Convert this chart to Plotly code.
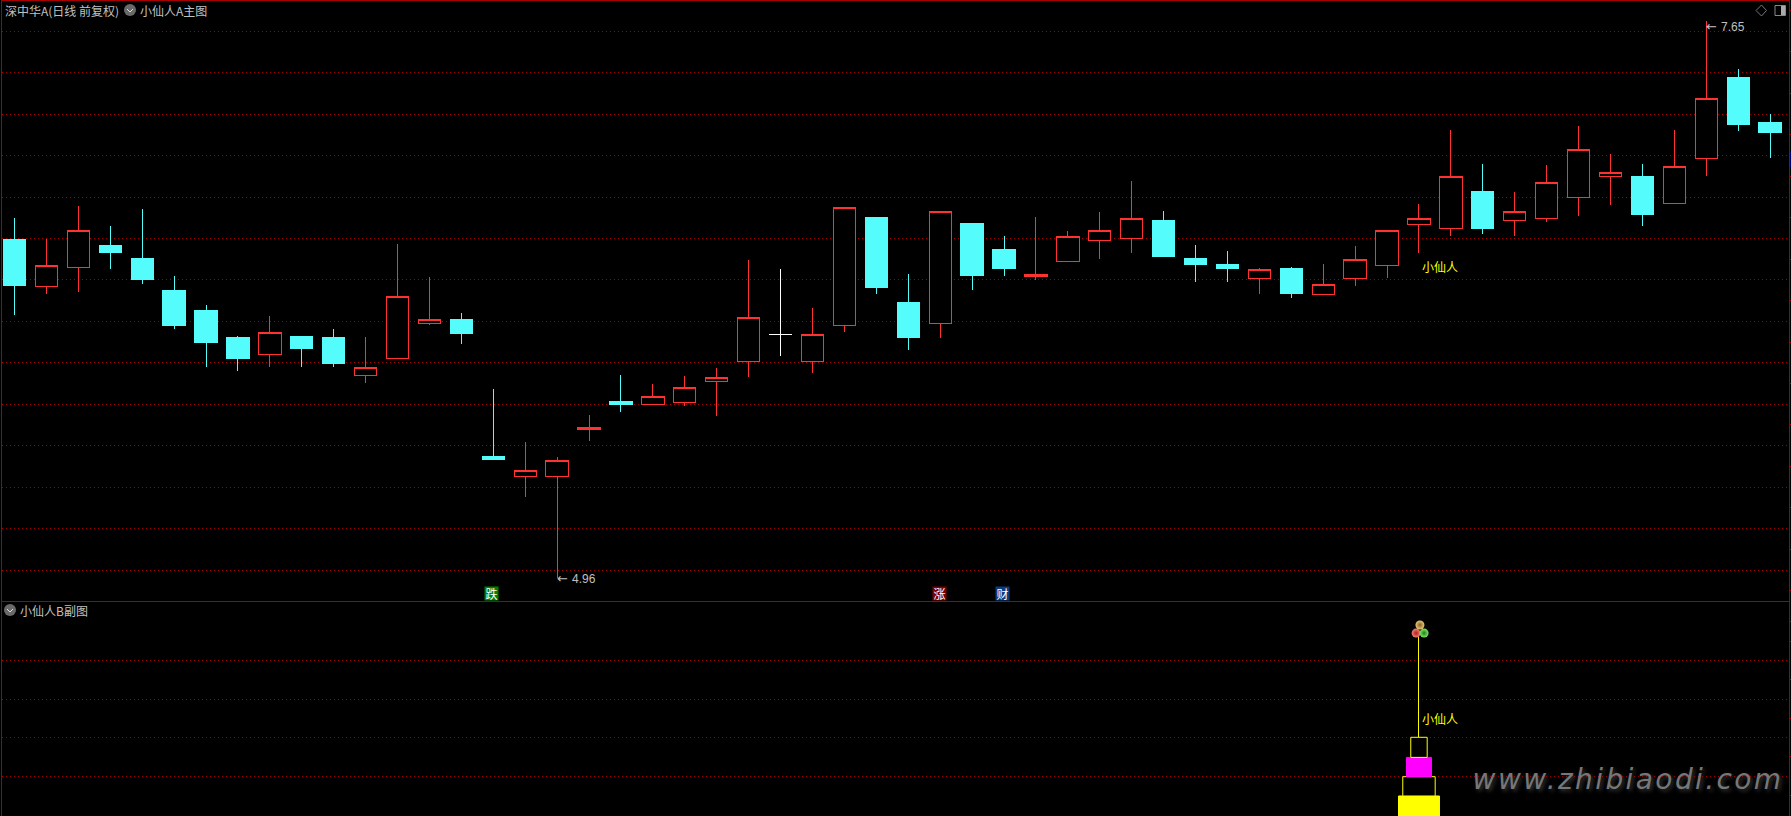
import plotly.graph_objects as go

# Prices, one entry per trading day
open_ = [6.371,6.367,6.459,6.530,6.400,6.182,6.100,6.023,6.039,6.071,5.999,5.938,6.020,6.189,6.139,
         5.531,5.450,5.450,5.677,5.801,5.798,5.807,5.909,6.005,6.137,6.005,6.179,6.361,6.120,6.189,
         6.419,6.453,6.415,6.490,6.589,6.599,6.511,6.472,6.453,6.406,6.332,6.329,6.406,6.469,6.666,
         6.647,6.650,6.686,6.695,6.797,6.898,6.718,6.768,6.985,7.148,7.109]
close = [6.593,6.470,6.639,6.568,6.501,6.351,6.250,6.120,6.147,6.129,6.120,5.978,6.321,6.210,6.211,
         5.550,5.481,5.529,5.689,5.811,5.838,5.882,5.930,6.220,6.137,6.137,6.750,6.699,6.289,6.731,
         6.670,6.549,6.427,6.610,6.639,6.697,6.689,6.501,6.472,6.451,6.453,6.379,6.499,6.639,6.697,
         6.900,6.829,6.731,6.871,7.030,6.919,6.901,6.948,7.276,7.379,7.162]
high = [6.699,6.597,6.757,6.660,6.742,6.419,6.279,6.129,6.226,6.129,6.163,6.124,6.573,6.414,6.240,
        5.874,5.618,5.545,5.748,5.941,5.898,5.936,5.975,6.496,6.453,6.264,6.750,6.699,6.428,6.731,
        6.670,6.612,6.704,6.636,6.728,6.877,6.733,6.568,6.539,6.457,6.462,6.477,6.564,6.639,6.766,
        7.123,6.959,6.824,6.955,7.143,7.008,6.959,7.123,7.650,7.418,7.201]
low = [6.231,6.332,6.342,6.453,6.380,6.163,5.980,5.960,5.980,5.980,5.980,5.902,6.020,6.182,6.091,
       5.531,5.352,4.960,5.623,5.763,5.798,5.791,5.743,5.931,6.033,5.951,6.149,6.332,6.062,6.120,
       6.351,6.419,6.400,6.490,6.501,6.530,6.511,6.390,6.390,6.332,6.313,6.329,6.371,6.409,6.530,
       6.612,6.622,6.612,6.679,6.708,6.761,6.660,6.768,6.901,7.119,6.988]
# Which days closed lower (drawn filled cyan)
falling = [0,3,4,5,6,7,9,10,14,15,19,27,28,30,31,36,37,38,40,46,51,54,55]
doji = 24
signal_day = 44

tier_bottom = [-0.1, 0.98, 1.98, 2.98]
tier_top = [0.98, 1.98, 2.98, 4.02]
stem_top = 9.23
balls_y = [9.84, 9.42, 9.42]

RED = "#ff3232"
CYAN = "#54fcfc"
YELLOW = "#ffff00"
FRAME = "#a80000"
GRID = "#a00000"
LABEL = "#c0c0c0"
CJK = "Noto Sans CJK SC, Liberation Sans, sans-serif"

W, H = 1791, 816
T, R, L, B = 1, 2, 2, 0
PW, PH = W - L - R, H - T - B
def px(x): return (x - L) / PW
def py(y): return (H - B - y) / PH

n = len(close)
days = list(range(n))
ry = [i for i in days if i not in falling and i != doji]
def pick(arr, idx): return [arr[i] for i in idx]

fig = go.Figure()

def candles(idx, color, fill):
    # open/close ordered so that Plotly styles the whole group as one direction
    lo = [min(open_[i], close[i]) for i in idx]
    hi = [max(open_[i], close[i]) for i in idx]
    side = dict(line=dict(color=color, width=1), fillcolor=fill)
    fig.add_trace(go.Candlestick(x=idx, open=lo, close=hi, high=pick(high, idx), low=pick(low, idx),
                                 increasing=side, decreasing=side, whiskerwidth=0,
                                 xaxis="x", yaxis="y", hoverinfo="skip", showlegend=False))

candles(ry, RED, "#000000")
candles(falling, CYAN, CYAN)
candles([doji], "#ffffff", "#000000")

# Lower panel: stacked tiers at the signal day
tiers = [(0, 1.284, YELLOW, YELLOW), (1, 1.015, "#000000", YELLOW),
         (2, 0.783, "#ff00ff", "#ff00ff"), (3, 0.514, "#000000", YELLOW)]
for k, wd, fc, lc in tiers:
    fig.add_trace(go.Bar(x=[signal_day], y=[tier_top[k] - tier_bottom[k]], base=[tier_bottom[k]],
                         width=wd, marker=dict(color=fc, line=dict(color=lc, width=1)),
                         xaxis="x2", yaxis="y2", hoverinfo="skip", showlegend=False))
fig.add_trace(go.Scatter(x=[signal_day, signal_day], y=[tier_top[3], stem_top], mode="lines",
                         line=dict(color=YELLOW, width=1), xaxis="x2", yaxis="y2",
                         hoverinfo="skip", showlegend=False))
fig.add_trace(go.Scatter(x=[signal_day + 0.03, signal_day - 0.09, signal_day + 0.16], y=balls_y, mode="markers",
                         marker=dict(size=9, color=["#e8c878", "#f08070", "#80e860"],
                                     gradient=dict(type="radial", color=["#8a6020", "#b02020", "#208020"]),
                                     line=dict(width=0)),
                         xaxis="x2", yaxis="y2", hoverinfo="skip", showlegend=False))

def note(x, y, text, color=LABEL, size=12, family=CJK, anchor="left", **kw):
    return dict(xref="paper", yref="paper", x=px(x), y=py(y), text=text, showarrow=False,
                xanchor=anchor, yanchor="middle", font=dict(color=color, size=size, family=family),
                borderpad=0, **kw)

anns = [
    note(4, 10, "深中华A(日线 前复权)"),
    note(139, 10, "小仙人A主图"),
    note(19, 610, "小仙人B副图"),
    note(1421, 266, "小仙人", color=YELLOW),
    note(1421, 718, "小仙人", color=YELLOW),
    note(556, 578, "←", size=13, family="DejaVu Sans"),
    note(570.5, 579, "4.96", family="Liberation Sans"),
    note(1705, 26, "←", size=13, family="DejaVu Sans"),
    note(1720, 27, "7.65", family="Liberation Sans"),
    note(492, 593.5, "跌", color="#ffffff", anchor="center", bgcolor="#008000", width=13, height=13),
    note(939.5, 593.5, "涨", color="#ffffff", anchor="center", bgcolor="#800000", width=13, height=13),
    note(1003, 593.5, "财", color="#ffffff", anchor="center", bgcolor="#0c3c80", width=13, height=13),
    dict(xref="paper", yref="paper", x=px(1628), y=py(779), text="www.zhibiaodi.com", showarrow=False,
         xanchor="center", yanchor="middle",
         font=dict(color="#777777", size=28, family="DejaVu Sans", style="italic",
                   shadow="2px 2px 4px #3a3a3a")),
]

x_range = [(L - 14.5) / 31.92, (W - R - 14.5) / 31.92]
frame = dict(showline=True, linecolor=FRAME, linewidth=1, mirror=True, zeroline=False,
             showticklabels=False)
def paper(**kw):
    return dict(xref="paper", yref="paper", **kw)
def chevron(cx, cy):
    return [
        paper(type="circle", x0=px(cx - 6), x1=px(cx + 6), y0=py(cy + 6), y1=py(cy - 6),
              fillcolor="#6a6a6a", line=dict(width=0)),
        paper(type="path", path=f"M {px(cx-3)} {py(cy-1)} L {px(cx)} {py(cy+2)} L {px(cx+3)} {py(cy-1)}",
              line=dict(color="#e0e0e0", width=1)),
    ]

fig.update_layout(
    width=W, height=H, autosize=False, margin=dict(l=L, r=R, t=T, b=B, pad=0),
    paper_bgcolor="#000000", plot_bgcolor="#000000", showlegend=False, barmode="overlay",
    boxgap=0.30, boxgroupgap=0, boxmode="overlay",
    xaxis=dict(domain=[0, 1], range=x_range, anchor="y", showgrid=False, ticks="",
               rangeslider=dict(visible=False), **frame),
    yaxis=dict(domain=[py(600.5), 1], range=[4.8528, 7.746], anchor="x", side="right", showgrid=True,
               gridcolor=GRID, griddash="1px,3px", gridwidth=1, tick0=5, dtick=0.2, ticks="",
               minor=dict(ticks="outside", ticklen=1, tickcolor=FRAME, tick0=5.1, dtick=0.2, showgrid=False),
               **frame),
    xaxis2=dict(domain=[0, 1], range=x_range, anchor="y2", showgrid=False, ticks="", **frame),
    yaxis2=dict(domain=[0, py(602)], range=[-0.057, 11.03], anchor="x2", side="right", showgrid=True,
                gridcolor=GRID, griddash="1px,3px", gridwidth=1, tickvals=[2, 4, 6, 8], ticks="",
                minor=dict(ticks="outside", ticklen=1, tickcolor=FRAME, tickvals=[1, 3, 5, 7, 9, 10], showgrid=False),
                **frame),
    annotations=anns,
    shapes=chevron(130, 10) + chevron(10, 610) + [
        paper(type="path",
              path=f"M {px(1761.5)} {py(5)} L {px(1766.5)} {py(10.5)} L {px(1761.5)} {py(16)} L {px(1756)} {py(10.5)} Z",
              line=dict(color="#777777", width=1)),
        paper(type="rect", x0=px(1775), x1=px(1785.5), y0=py(15.5), y1=py(5.5),
              line=dict(color="#888888", width=1), fillcolor="#000000"),
        paper(type="rect", x0=px(1781), x1=px(1785), y0=py(15), y1=py(6),
              line=dict(width=0), fillcolor="#aaaaaa"),
        paper(type="rect", x0=px(1790), x1=px(1791), y0=py(167), y1=py(152),
              line=dict(width=0), fillcolor="#000080"),
    ],
)

post = """
document.body.style.margin = '0';
document.documentElement.style.overflow = 'hidden';
document.querySelectorAll('.boxlayer path, .scatterlayer .js-line').forEach(function (p) {
  p.style.shapeRendering = 'crispEdges';
});
document.querySelectorAll('.annotation-text').forEach(function (t) {
  if (t.textContent.indexOf('www.') === 0) { t.style.letterSpacing = '2.4px'; }
});
"""
fig.write_html("out.html", post_script=post, config={"displayModeBar": False})
